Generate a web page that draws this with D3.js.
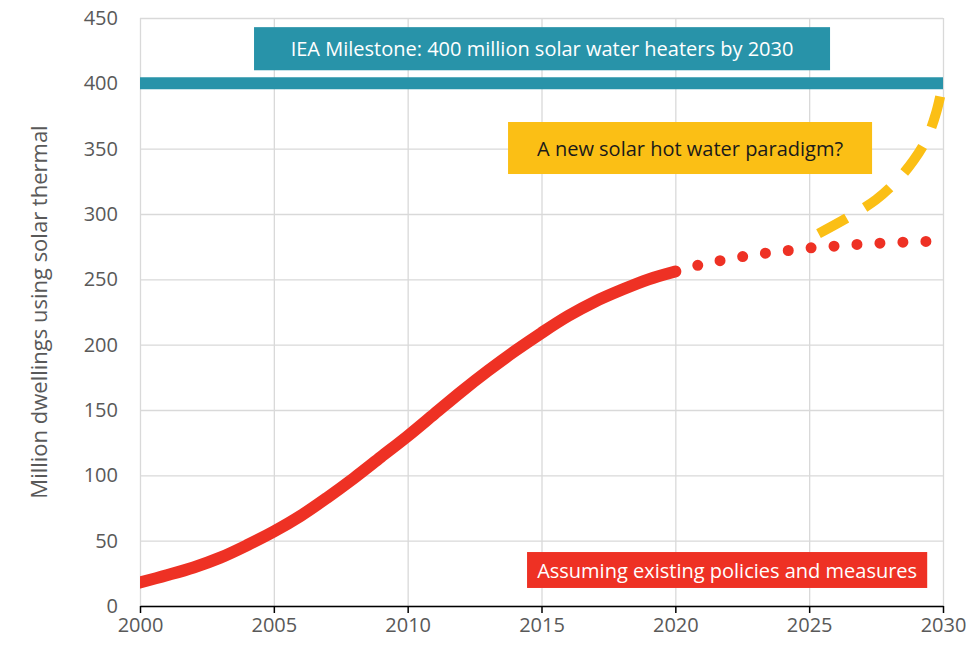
<!DOCTYPE html>
<html>
<head>
<meta charset="utf-8">
<script src="https://cdn.jsdelivr.net/npm/d3@7"></script>
<style>
    body { margin: 0; background: #fff; }
    text { font-family: "Open Sans", sans-serif; }
</style>
</head>
<body>
<div id="chart"></div>
<script>
// chart values
var historyYears = [2000, 2001, 2002, 2003, 2004, 2005, 2006, 2007, 2008, 2009, 2010,
                    2011, 2012, 2013, 2014, 2015, 2016, 2017, 2018, 2019, 2020];
var historyValues = [18, 23.5, 29.5, 37, 46.5, 57, 69, 83, 98, 114, 130,
                     147, 164, 180, 195, 209, 222, 233, 242, 250, 256];

var projectionYears = [2020, 2021, 2022, 2023, 2024, 2025, 2026, 2027, 2028, 2029, 2030];
var projectionValues = [256, 261.5, 265.5, 269, 271.5, 274, 275.5, 277, 278, 278.8, 279.3];

var paradigmYears = [2025.35, 2026.5, 2027.5, 2028.3, 2028.9, 2029.4, 2029.75, 2030];
var paradigmValues = [285, 298, 311, 326, 341, 358, 378, 400];

var milestoneValue = 400;

var xTicks = [2000, 2005, 2010, 2015, 2020, 2025, 2030];
var yTicks = [0, 50, 100, 150, 200, 250, 300, 350, 400, 450];

// annotation boxes, in data units
var labels = [
    {text: "IEA Milestone: 400 million solar water heaters by 2030", x0: 2004.26, x1: 2025.78, y0: 410, y1: 443, fill: "#2893a9", color: "#fff"},
    {text: "A new solar hot water paradigm?", x0: 2013.75, x1: 2027.35, y0: 330.6, y1: 370.4, fill: "#fbbf15", color: "#1a1a1a"},
    {text: "Assuming existing policies and measures", x0: 2014.46, x1: 2029.41, y0: 13.8, y1: 41.3, fill: "#ee3124", color: "#fff"}
];

var margin = {top: 18, right: 23, bottom: 39, left: 140},
    width = 966 - margin.left - margin.right,
    height = 645 - margin.top - margin.bottom;

var svg = d3.select("#chart")
    .append("svg")
    .attr("width", width + margin.left + margin.right)
    .attr("height", height + margin.top + margin.bottom)
    .append("g")
    .attr("transform", "translate(" + margin.left + "," + margin.top + ")");

svg.append("clipPath")
    .attr("id", "plot-clip")
    .append("rect")
    .attr("x", 0)
    .attr("y", -margin.top)
    .attr("width", width + margin.right)
    .attr("height", height + margin.top);

var xScale = d3.scaleLinear().domain([2000, 2030]).range([0, width]);
var yScale = d3.scaleLinear().domain([0, 450]).range([height, 0]);

// grid
svg.append("g")
    .attr("class", "x-grid")
    .attr("transform", "translate(0," + height + ")")
    .call(d3.axisBottom(xScale).tickValues(xTicks).tickSize(-height).tickFormat(""))
    .call(function(g) { g.select(".domain").remove(); })
    .selectAll("line").attr("stroke", "#d9d9d9").attr("stroke-width", 1.3);

svg.append("g")
    .attr("class", "y-grid")
    .call(d3.axisLeft(yScale).tickValues(yTicks).tickSize(-width).tickFormat(""))
    .call(function(g) { g.select(".domain").remove(); })
    .selectAll("line").attr("stroke", "#d9d9d9").attr("stroke-width", 1.3);

// y axis labels
svg.append("g")
    .attr("class", "y-axis")
    .call(d3.axisLeft(yScale).tickValues(yTicks).tickSize(0).tickPadding(22))
    .call(function(g) { g.select(".domain").remove(); })
    .selectAll("text")
    .attr("font-size", 20)
    .attr("fill", "#595959")
    .style("font-family", "'Open Sans', sans-serif");

// x axis
svg.append("g")
    .attr("class", "x-axis")
    .attr("transform", "translate(0," + height + ")")
    .call(d3.axisBottom(xScale).tickValues(xTicks).tickSize(7).tickSizeOuter(0).tickPadding(5).tickFormat(d3.format("d")))
    .call(function(g) {
        g.select(".domain").attr("stroke", "#000").attr("stroke-width", 1.5);
        g.selectAll("line").attr("stroke", "#000").attr("stroke-width", 1.5);
        g.selectAll("text")
            .attr("font-size", 20)
            .attr("fill", "#595959")
            .style("font-family", "'Open Sans', sans-serif");
    });

// y axis title
svg.append("text")
    .attr("transform", "translate(" + (38 - margin.left) + "," + (height / 2) + ") rotate(-90)")
    .attr("text-anchor", "middle")
    .attr("dominant-baseline", "central")
    .attr("font-size", 22)
    .attr("fill", "#595959")
    .text("Million dwellings using solar thermal");

// milestone line
svg.append("line")
    .attr("x1", xScale(2000))
    .attr("x2", xScale(2030))
    .attr("y1", yScale(milestoneValue))
    .attr("y2", yScale(milestoneValue))
    .attr("stroke", "#2893a9")
    .attr("stroke-width", 12);

// label boxes
var boxes = svg.selectAll(".label-box")
    .data(labels)
    .enter()
    .append("g")
    .attr("class", "label-box");

boxes.append("rect")
    .attr("x", function(d) { return xScale(d.x0); })
    .attr("y", function(d) { return yScale(d.y1); })
    .attr("width", function(d) { return xScale(d.x1) - xScale(d.x0); })
    .attr("height", function(d) { return yScale(d.y0) - yScale(d.y1); })
    .attr("fill", function(d) { return d.fill; });

boxes.append("text")
    .attr("x", function(d) { return (xScale(d.x0) + xScale(d.x1)) / 2; })
    .attr("y", function(d) { return (yScale(d.y0) + yScale(d.y1)) / 2; })
    .attr("text-anchor", "middle")
    .attr("dominant-baseline", "central")
    .attr("font-size", 20)
    .attr("fill", function(d) { return d.color; })
    .text(function(d) { return d.text; });

var line = d3.line()
    .x(function(d) { return xScale(d[0]); })
    .y(function(d) { return yScale(d[1]); })
    .curve(d3.curveCatmullRom.alpha(0.5));

var historyData = historyYears.map(function(y, i) { return [y, historyValues[i]]; });
var projectionData = projectionYears.map(function(y, i) { return [y, projectionValues[i]]; });
var paradigmData = paradigmYears.map(function(y, i) { return [y, paradigmValues[i]]; });

// dashed paradigm line
svg.append("path")
    .datum(paradigmData)
    .attr("d", line)
    .attr("fill", "none")
    .attr("stroke", "#fbbf15")
    .attr("stroke-width", 10)
    .attr("stroke-dasharray", "32,21");

// dotted projection
svg.append("path")
    .datum(projectionData)
    .attr("d", line)
    .attr("fill", "none")
    .attr("stroke", "#ee3124")
    .attr("stroke-width", 11)
    .attr("stroke-linecap", "round")
    .attr("stroke-dasharray", "0,23");

// solid history
svg.append("path")
    .datum(historyData)
    .attr("d", line)
    .attr("clip-path", "url(#plot-clip)")
    .attr("fill", "none")
    .attr("stroke", "#ee3124")
    .attr("stroke-width", 12)
    .attr("stroke-linecap", "round");

// bring the bottom label above the lines
svg.selectAll(".label-box").filter(function(d, i) { return i === 2; }).raise();
</script>
</body>
</html>
